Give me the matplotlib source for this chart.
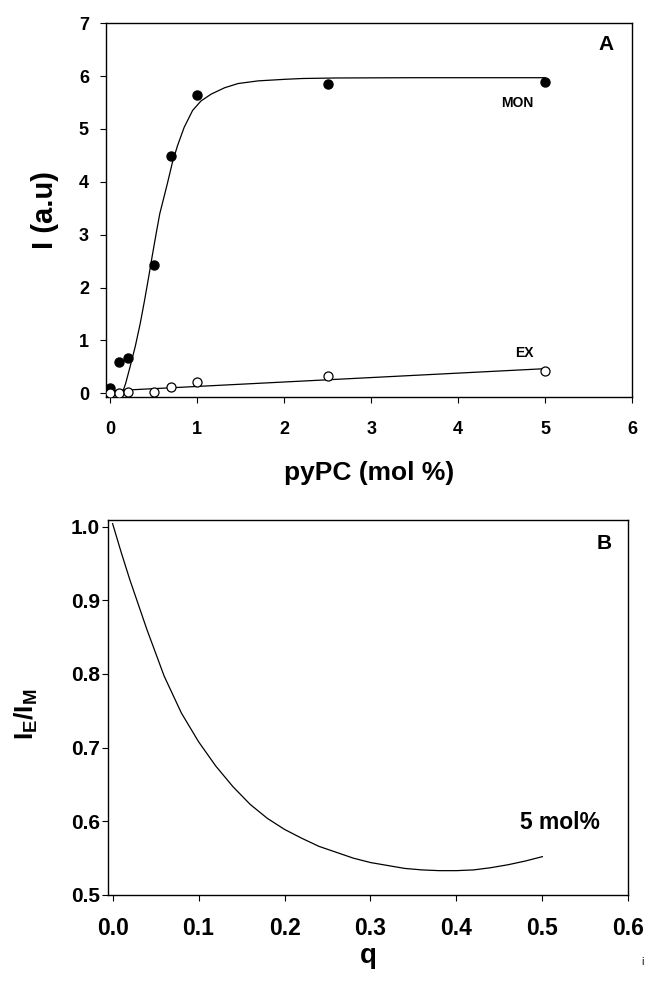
import matplotlib
matplotlib.use("Agg")
import matplotlib.pyplot as plt

plt.rcParams['font.family'] = ['Liberation Sans', 'DejaVu Sans']
plt.rcParams['font.weight'] = 'bold'
plt.rcParams['mathtext.fontset'] = 'custom'
plt.rcParams['mathtext.rm'] = 'Liberation Sans:bold'
plt.rcParams['mathtext.bf'] = 'Liberation Sans:bold'
plt.rcParams['mathtext.it'] = 'Liberation Sans:bold'

# ---- Panel A data ----
conc = [0, 0.1, 0.2, 0.5, 0.7, 1.0, 2.5, 5.0]
mon_vals = [0.10, 0.60, 0.67, 2.42, 4.49, 5.64, 5.86, 5.88]
ex_vals = [0.01, 0.01, 0.025, 0.03, 0.11, 0.21, 0.33, 0.43]

mon_fit_x = [0.105, 0.13, 0.15, 0.177, 0.227, 0.286, 0.344, 0.394, 0.441,
             0.480, 0.527, 0.569, 0.60, 0.655, 0.713, 0.772, 0.849, 0.946,
             1.043, 1.16, 1.315, 1.47, 1.70, 2.01, 2.21, 2.6, 3.5, 5.0]
mon_fit_y = [-0.065, -0.02, 0.06, 0.19, 0.50, 0.88, 1.32, 1.76, 2.20,
             2.58, 3.02, 3.40, 3.60, 3.96, 4.36, 4.68, 5.03, 5.35,
             5.53, 5.66, 5.78, 5.86, 5.91, 5.94, 5.955, 5.965, 5.97, 5.97]
ex_fit_x = [0.0, 5.0]
ex_fit_y = [0.045, 0.465]

# ---- Panel B data ----
q_vals = [0.0, 0.01, 0.02, 0.04, 0.06, 0.08, 0.10, 0.12, 0.14, 0.16, 0.18, 0.20,
          0.22, 0.24, 0.26, 0.28, 0.30, 0.32, 0.34, 0.36, 0.38, 0.40, 0.42,
          0.44, 0.46, 0.48, 0.50]
ratio_vals = [1.004, 0.965, 0.928, 0.860, 0.797, 0.747, 0.708, 0.675, 0.647,
              0.623, 0.604, 0.589, 0.577, 0.566, 0.558, 0.550, 0.544, 0.540,
              0.536, 0.534, 0.533, 0.533, 0.534, 0.537, 0.541, 0.546, 0.552]

fig = plt.figure(figsize=(6.47, 9.90), dpi=100)

# Panel A
axA = fig.add_axes([0.1638, 0.5993, 0.813, 0.3772])
axA.plot(mon_fit_x, mon_fit_y, color='black', lw=0.9)
axA.plot(ex_fit_x, ex_fit_y, color='black', lw=0.9)
axA.plot(conc, mon_vals, 'o', color='black', ms=6.5, zorder=3)
axA.plot(conc, ex_vals, 'o', mfc='white', mec='black', mew=0.9, ms=6.5, zorder=3)
axA.set_xlim(-0.05, 6)
axA.set_ylim(-0.065, 7)
axA.set_xticks([0, 1, 2, 3, 4, 5, 6])
axA.set_yticks([0, 1, 2, 3, 4, 5, 6, 7])
axA.tick_params(axis='both', direction='out', length=4.3, width=0.8)
axA.tick_params(axis='x', labelsize=13, pad=13)
axA.tick_params(axis='y', labelsize=13, pad=8)
axA.set_xlabel('pyPC (mol %)', fontsize=19, fontweight='bold', va='center')
axA.xaxis.set_label_coords(0.5, -0.204)
axA.set_ylabel('I (a.u)', fontsize=21, fontweight='bold', va='center', ha='center')
axA.yaxis.set_label_coords(-0.116, 0.5)
axA.text(0.951, 0.942, 'A', transform=axA.transAxes, fontsize=15,
         fontweight='bold', ha='center', va='center')
axA.text(4.68, 5.5, 'MON', fontsize=10, fontweight='bold', ha='center', va='center')
axA.text(4.76, 0.76, 'EX', fontsize=10, fontweight='bold', ha='center', va='center')
for s in axA.spines.values():
    s.set_linewidth(1.0)

# Panel B
axB = fig.add_axes([0.1674, 0.0960, 0.8037, 0.3788])
axB.plot(q_vals, ratio_vals, color='black', lw=0.9)
axB.set_xlim(-0.005, 0.6)
axB.set_ylim(0.5, 1.009)
axB.set_xticks([0.0, 0.1, 0.2, 0.3, 0.4, 0.5, 0.6])
axB.set_xticklabels(['0.0', '0.1', '0.2', '0.3', '0.4', '0.5', '0.6'])
axB.set_yticks([0.5, 0.6, 0.7, 0.8, 0.9, 1.0])
axB.set_yticklabels(['0.5', '0.6', '0.7', '0.8', '0.9', '1.0'])
axB.tick_params(axis='both', direction='out', length=4, width=0.8)
axB.tick_params(axis='x', labelsize=16.5, pad=12)
axB.tick_params(axis='y', labelsize=15, pad=2)
axB.set_xlabel('q', fontsize=20, fontweight='bold', va='baseline')
axB.xaxis.set_label_coords(0.5, -0.182)
axB.set_ylabel(r'I$_\mathbf{E}$/I$_\mathbf{M}$', fontsize=19, fontweight='bold',
               va='center', ha='center')
axB.yaxis.set_label_coords(-0.158, 0.483)
axB.text(0.954, 0.938, 'B', transform=axB.transAxes, fontsize=15,
         fontweight='bold', ha='center', va='center')
axB.text(0.520, 0.598, '5 mol%', fontsize=16.5, fontweight='bold',
         ha='center', va='center')
for s in axB.spines.values():
    s.set_linewidth(1.0)

fig.text(643 / 647, 1 - 962 / 990, 'i', fontsize=7, color='#555555',
         ha='center', va='center')

fig.savefig('out.png', dpi=100)
